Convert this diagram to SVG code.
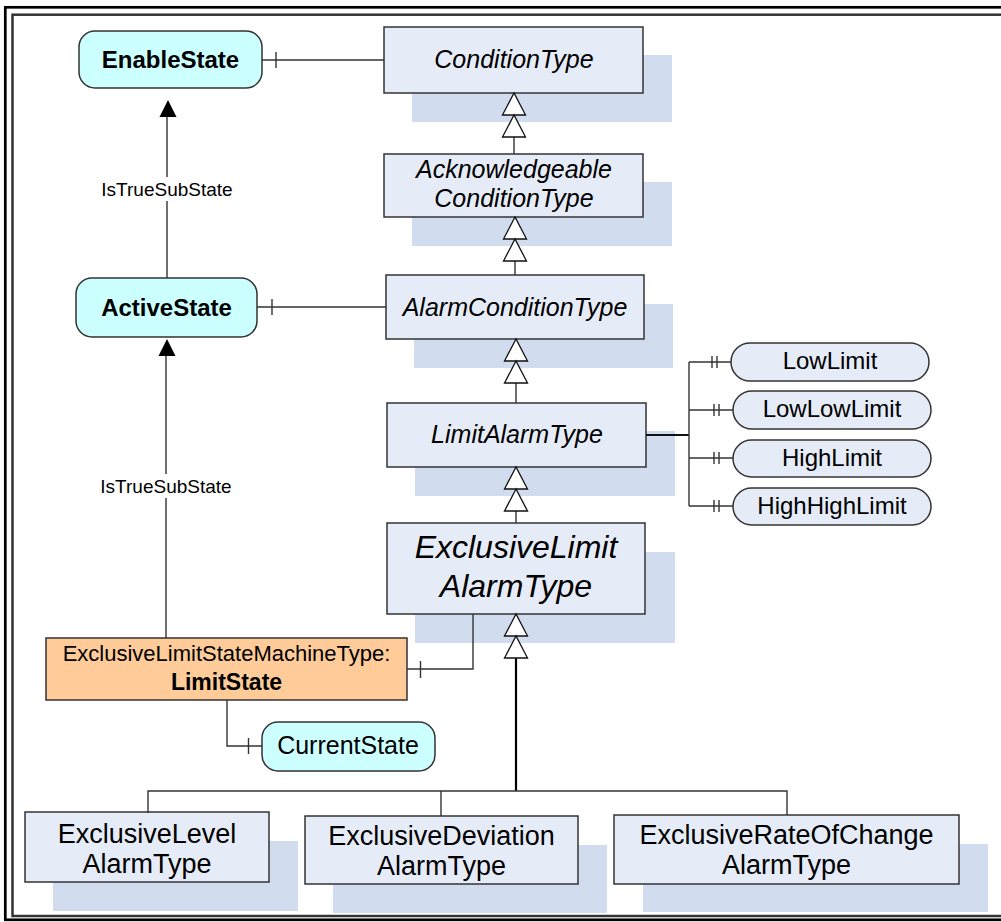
<svg xmlns="http://www.w3.org/2000/svg" width="1001" height="922" viewBox="0 0 1001 922">
<style>
.cls{fill:#e6ecf7;stroke:#333;stroke-width:1.5}
.shd{fill:#d1dcee;stroke:none}
.st{fill:#ccffff;stroke:#333;stroke-width:1.5}
.pill{fill:#e6ecf7;stroke:#333;stroke-width:1.5}
.ls{fill:#ffcc99;stroke:#333;stroke-width:1.5}
.ln{fill:none;stroke:#333;stroke-width:1.4}
.gen{fill:#fff;stroke:#111;stroke-width:1.3}
.t{font-family:"Liberation Sans",Arial,sans-serif;fill:#000;text-anchor:middle}
.it{font-style:italic;font-size:25px}
.b{font-weight:bold}
</style>
<rect x="0" y="0" width="1001" height="922" fill="#fff"/>
<rect x="5.3" y="7.3" width="1010" height="912.5" fill="none" stroke="#000" stroke-width="2.7"/>
<rect x="12.5" y="14.7" width="1010" height="901.3" fill="none" stroke="#333" stroke-width="2.5"/>

<g id="EnableState">
  <rect class="st" x="79" y="31" width="183" height="57" rx="16"/>
  <text class="t b" x="170.5" y="68" font-size="24">EnableState</text>
</g>
<g id="ActiveState">
  <rect class="st" x="76" y="278" width="181" height="59" rx="16"/>
  <text class="t b" x="166.5" y="316" font-size="24">ActiveState</text>
</g>
<g id="ConditionType">
  <rect class="shd" x="412" y="55" width="260" height="67"/>
  <rect class="cls" x="384" y="27" width="259" height="66"/>
  <text class="t it" x="514" y="68">ConditionType</text>
</g>
<g id="AcknowledgeableConditionType">
  <rect class="shd" x="412" y="182" width="260" height="64"/>
  <rect class="cls" x="384" y="154" width="259" height="63"/>
  <text class="t it" x="514" y="178">Acknowledgeable</text>
  <text class="t it" x="514" y="207">ConditionType</text>
</g>
<g id="AlarmConditionType">
  <rect class="shd" x="414" y="304" width="259" height="64"/>
  <rect class="cls" x="386" y="275" width="258" height="64"/>
  <text class="t it" x="515" y="316">AlarmConditionType</text>
</g>
<g id="LimitAlarmType">
  <rect class="shd" x="415" y="431" width="260" height="65"/>
  <rect class="cls" x="387" y="403" width="259" height="64"/>
  <text class="t it" x="517" y="443">LimitAlarmType</text>
</g>
<g id="ExclusiveLimitAlarmType">
  <rect class="shd" x="415" y="552" width="260" height="91"/>
  <rect class="cls" x="387" y="523" width="258" height="91"/>
  <text class="t" x="516" y="558" font-size="32" font-style="italic">ExclusiveLimit</text>
  <text class="t" x="516" y="597" font-size="32" font-style="italic">AlarmType</text>
</g>
<g id="LowLimit">
  <rect class="pill" x="731" y="343" width="198" height="38" rx="19"/>
  <text class="t" x="830" y="369" font-size="24">LowLimit</text>
</g>
<g id="LowLowLimit">
  <rect class="pill" x="733" y="391" width="198" height="38" rx="19"/>
  <text class="t" x="832" y="417" font-size="24">LowLowLimit</text>
</g>
<g id="HighLimit">
  <rect class="pill" x="733" y="440" width="198" height="37" rx="18.5"/>
  <text class="t" x="832" y="466" font-size="24">HighLimit</text>
</g>
<g id="HighHighLimit">
  <rect class="pill" x="733" y="488" width="198" height="37" rx="18.5"/>
  <text class="t" x="832" y="514" font-size="24">HighHighLimit</text>
</g>
<g id="LimitState">
  <rect class="ls" x="46" y="638" width="361" height="62"/>
  <text class="t" x="226.5" y="661" font-size="22">ExclusiveLimitStateMachineType:</text>
  <text class="t b" x="226.5" y="690" font-size="23">LimitState</text>
</g>
<g id="CurrentState">
  <rect class="st" x="262" y="722" width="173" height="49" rx="16"/>
  <text class="t" x="348" y="754" font-size="25">CurrentState</text>
</g>
<g id="ExclusiveLevelAlarmType">
  <rect class="shd" x="53" y="841" width="245" height="70"/>
  <rect class="cls" x="25" y="812" width="244" height="70"/>
  <text class="t" x="147" y="843" font-size="27">ExclusiveLevel</text>
  <text class="t" x="147" y="873" font-size="27">AlarmType</text>
</g>
<g id="ExclusiveDeviationAlarmType">
  <rect class="shd" x="333" y="845" width="274" height="68"/>
  <rect class="cls" x="305" y="816" width="273" height="68"/>
  <text class="t" x="441.5" y="845" font-size="27">ExclusiveDeviation</text>
  <text class="t" x="441.5" y="875" font-size="27">AlarmType</text>
</g>
<g id="ExclusiveRateOfChangeAlarmType">
  <rect class="shd" x="643" y="844" width="345" height="68"/>
  <rect class="cls" x="614" y="815" width="345" height="69"/>
  <text class="t" x="786.5" y="844" font-size="27">ExclusiveRateOfChange</text>
  <text class="t" x="786.5" y="874" font-size="27">AlarmType</text>
</g>

<g id="connectors">
  <line class="ln" x1="262" y1="60" x2="384" y2="60"/>
  <line class="ln" x1="276" y1="52" x2="276" y2="68"/>
  <line class="ln" x1="257" y1="307" x2="386" y2="307"/>
  <line class="ln" x1="272" y1="299" x2="272" y2="315"/>
  <line class="ln" x1="167" y1="278" x2="167" y2="201"/>
  <line class="ln" x1="167" y1="177" x2="167" y2="116"/>
  <polygon points="168,100 159.5,117 176.5,117" fill="#000"/>
  <line class="ln" x1="166" y1="638" x2="166" y2="498"/>
  <line class="ln" x1="166" y1="474" x2="166" y2="355"/>
  <polygon points="167,339 158.5,356 175.5,356" fill="#000"/>
  <line class="ln" x1="514" y1="137" x2="514" y2="154"/>
  <polygon class="gen" points="514,93 502.5,115 525.5,115"/>
  <polygon class="gen" points="514,115 502.5,137 525.5,137"/>
  <line class="ln" x1="515" y1="260" x2="515" y2="275"/>
  <polygon class="gen" points="515,217 503.5,239 526.5,239"/>
  <polygon class="gen" points="515,239 503.5,261 526.5,261"/>
  <line class="ln" x1="516" y1="383" x2="516" y2="403"/>
  <polygon class="gen" points="516,339 504.5,361 527.5,361"/>
  <polygon class="gen" points="516,361 504.5,383 527.5,383"/>
  <line class="ln" x1="516" y1="511" x2="516" y2="523"/>
  <polygon class="gen" points="516,467 504.5,489 527.5,489"/>
  <polygon class="gen" points="516,489 504.5,511 527.5,511"/>
  <line x1="516" y1="658" x2="516" y2="791" stroke="#000" stroke-width="2.2"/>
  <polygon class="gen" points="516,614 504.5,636 527.5,636"/>
  <polygon class="gen" points="516,636 504.5,658 527.5,658"/>
  <polyline class="ln" points="148,813 148,791 787,791 787,815"/>
  <line class="ln" x1="441" y1="791" x2="441" y2="816"/>
  <line x1="646" y1="435" x2="689" y2="435" stroke="#111" stroke-width="2"/>
  <line class="ln" x1="689" y1="362" x2="689" y2="506"/>
  <line class="ln" x1="689" y1="362" x2="731" y2="362"/>
  <line class="ln" x1="689" y1="410" x2="733" y2="410"/>
  <line class="ln" x1="689" y1="458" x2="733" y2="458"/>
  <line class="ln" x1="689" y1="506" x2="733" y2="506"/>
  <g class="ln">
    <line x1="712" y1="356" x2="712" y2="368"/><line x1="717" y1="356" x2="717" y2="368"/>
    <line x1="714" y1="404" x2="714" y2="416"/><line x1="719" y1="404" x2="719" y2="416"/>
    <line x1="714" y1="452" x2="714" y2="464"/><line x1="719" y1="452" x2="719" y2="464"/>
    <line x1="714" y1="500" x2="714" y2="512"/><line x1="719" y1="500" x2="719" y2="512"/>
  </g>
  <polyline class="ln" points="407,669 473,669 473,614"/>
  <line class="ln" x1="420.5" y1="661" x2="420.5" y2="678"/>
  <polyline class="ln" points="227,700 227,746 262,746"/>
  <line class="ln" x1="248.5" y1="738" x2="248.5" y2="754"/>
  <text class="t" x="167" y="196" font-size="19">IsTrueSubState</text>
  <text class="t" x="166" y="493" font-size="19">IsTrueSubState</text>
</g>
</svg>
